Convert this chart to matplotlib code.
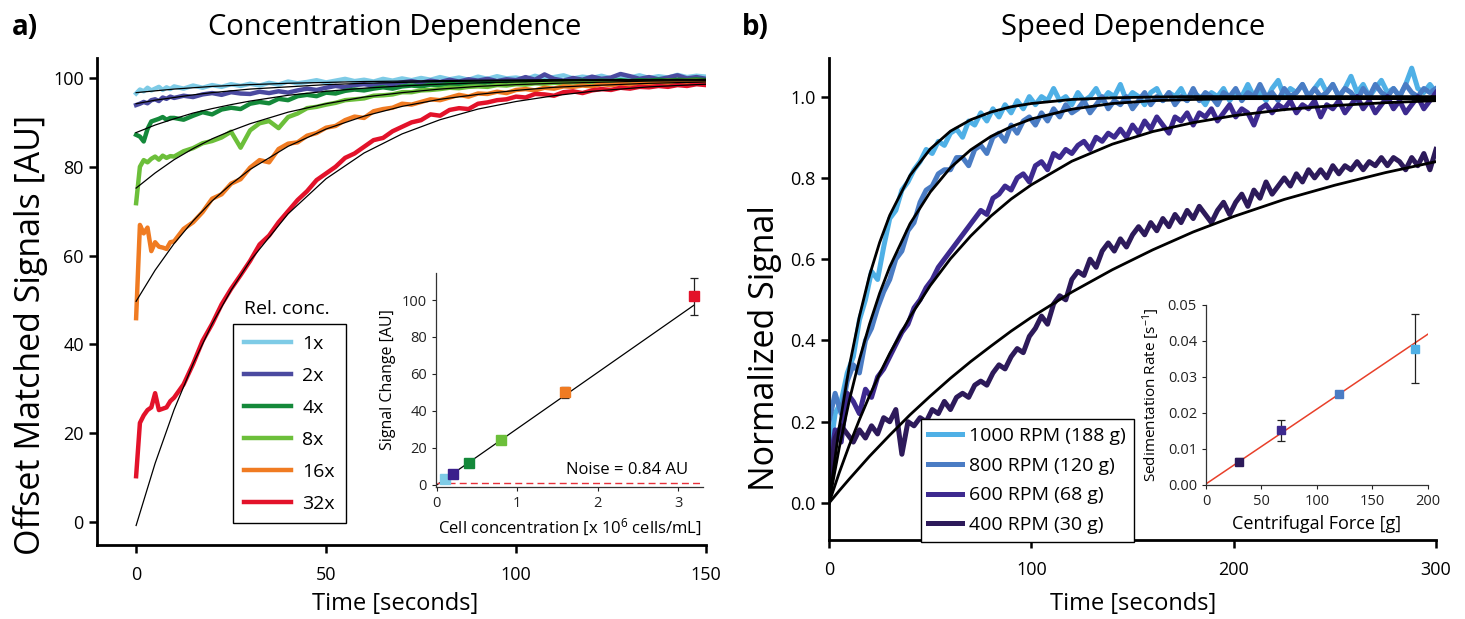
import matplotlib
matplotlib.use("Agg")
import matplotlib.pyplot as plt
from matplotlib.lines import Line2D
import numpy as np

plt.rcParams["font.family"] = ["Open Sans", "DejaVu Sans"]
plt.rcParams["mathtext.fontset"] = "custom"
plt.rcParams["mathtext.rm"] = "Open Sans"
plt.rcParams["mathtext.it"] = "Open Sans:italic"

# ---------------- panel a: concentration dependence ----------------
time_a = np.concatenate([np.arange(0, 10, 1.0), np.arange(10, 150.1, 2.5)])
conc_labels = ["1x", "2x", "4x", "8x", "16x", "32x"]
conc_colors = ["#7ecbe6", "#4b4aa0", "#14893a", "#6cbf3a", "#f07b22", "#e3122a"]

sig_1x = [96.5, 97.4, 97.0, 97.8, 97.2, 97.6, 98.0, 97.3, 97.9, 97.5,
          98.1, 97.6, 98.3, 97.8, 98.4, 98.0, 98.6, 98.2, 98.7, 98.3,
          98.9, 98.5, 99.2, 98.8, 99.1, 99.5, 99.0, 99.4, 99.8, 99.3,
          99.6, 99.2, 99.8, 99.4, 99.9, 99.5, 100.0, 99.6, 100.2, 99.7,
          100.1, 99.6, 100.3, 99.8, 100.4, 99.9, 100.1, 99.7, 100.5, 99.9,
          100.2, 100.6, 99.9, 100.3, 100.0, 100.5, 99.9, 100.3, 100.1, 100.6,
          100.0, 100.4, 100.1, 100.7, 100.2, 100.5, 100.3]
sig_2x = [93.9, 94.2, 94.6, 94.3, 95.0, 95.2, 94.8, 95.6, 95.3, 95.8,
          95.5, 96.0, 95.7, 96.3, 96.6, 96.2, 96.8, 96.5, 96.4, 96.9,
          96.6, 97.0, 96.7, 97.2, 97.6, 97.3, 97.8, 98.2, 97.9, 98.4,
          98.6, 98.3, 98.8, 98.6, 99.0, 99.3, 98.9, 99.4, 99.1, 99.6,
          99.2, 99.7, 99.4, 99.8, 99.3, 99.7, 99.5, 100.2, 99.6, 100.8,
          99.8, 99.4, 100.0, 99.6, 100.3, 99.8, 100.1, 100.9, 100.4, 99.8,
          100.2, 99.7, 100.1, 100.6, 99.9, 100.2, 99.8]
sig_4x = [87.2, 86.8, 85.7, 88.5, 90.2, 90.5, 90.8, 91.2, 90.6, 91.0,
          91.0, 90.6, 91.5, 92.3, 91.8, 92.9, 93.3, 93.0, 94.2, 94.6,
          94.3, 95.3, 95.0, 95.9, 96.2, 95.9, 96.7, 96.5, 97.1, 97.4,
          97.2, 97.6, 97.9, 97.6, 98.1, 98.3, 98.1, 98.5, 98.4, 98.7,
          98.5, 98.9, 98.7, 99.0, 98.8, 99.1, 99.0, 99.2, 98.9, 99.3,
          99.1, 99.3, 99.2, 99.4, 99.2, 99.4, 99.3, 99.5, 99.3, 99.5,
          99.4, 99.6, 99.4, 99.6, 99.5, 99.7, 99.5]
sig_8x = [71.8, 80.0, 81.5, 81.0, 81.8, 82.3, 81.6, 82.5, 82.0, 82.4,
          82.3, 83.5, 84.2, 85.3, 85.8, 86.6, 87.9, 84.3, 88.2, 89.8,
          90.3, 88.7, 91.2, 92.0, 93.2, 93.5, 94.0, 94.4, 95.0, 95.2,
          95.4, 96.0, 96.1, 96.3, 96.8, 96.8, 97.2, 97.3, 97.5, 97.8,
          97.7, 98.0, 98.1, 98.0, 98.4, 98.3, 98.6, 98.5, 98.8, 98.7,
          98.9, 98.8, 99.0, 98.9, 99.1, 99.0, 99.2, 99.1, 99.3, 99.2,
          99.3, 99.2, 99.4, 99.3, 99.4, 99.5, 99.3]
sig_16x = [45.9, 66.9, 65.0, 66.3, 61.0, 63.0, 62.0, 61.8, 61.5, 63.0,
           63.2, 66.0, 67.5, 69.8, 72.8, 73.8, 76.2, 77.2, 79.8, 81.5,
           81.0, 84.0, 85.2, 85.5, 87.0, 87.6, 88.8, 89.2, 90.5, 91.3,
           91.0, 92.5, 93.0, 93.3, 94.2, 94.0, 94.6, 95.2, 95.0, 95.6,
           96.2, 95.8, 96.5, 96.4, 96.9, 96.6, 97.3, 97.5, 97.2, 97.8,
           97.6, 98.1, 98.0, 98.3, 98.1, 98.6, 98.4, 98.7, 98.5, 98.9,
           98.7, 99.0, 98.8, 99.1, 98.9, 99.2, 99.0]
sig_32x = [10.3, 22.3, 24.0, 25.2, 25.8, 29.0, 25.2, 25.5, 25.8, 27.2,
           28.0, 31.0, 35.6, 40.8, 44.6, 49.0, 52.5, 55.6, 58.8, 62.5,
           64.5, 67.5, 70.0, 72.5, 74.5, 77.0, 78.5, 80.0, 82.0, 83.0,
           84.5, 86.0, 86.5, 88.0, 89.0, 90.0, 90.5, 91.8, 91.5, 92.8,
           93.2, 93.0, 94.2, 94.5, 95.0, 95.2, 95.8, 95.6, 96.4, 96.3,
           96.0, 96.8, 97.0, 96.6, 97.2, 97.5, 97.3, 97.8, 97.6, 98.0,
           97.9, 98.2, 98.0, 98.4, 98.2, 98.6, 98.4]
signals_a = [sig_1x, sig_2x, sig_4x, sig_8x, sig_16x, sig_32x]

# fitted curves, read at these times
time_fit_a = [0, 5, 10, 15, 20, 25, 30, 40, 50, 60, 70, 80, 90, 100, 110, 120, 135, 150]
fit_1x = [96.7, 97.1, 97.5, 97.8, 98.1, 98.3, 98.5, 98.8, 99.0, 99.2, 99.3, 99.4, 99.5, 99.55, 99.6, 99.6, 99.65, 99.7]
fit_2x = [94.2, 95.0, 95.6, 96.2, 96.7, 97.1, 97.5, 98.0, 98.5, 98.8, 99.0, 99.2, 99.3, 99.4, 99.5, 99.55, 99.6, 99.65]
fit_4x = [87.7, 89.4, 90.8, 92.1, 93.1, 94.0, 94.8, 96.1, 97.0, 97.7, 98.2, 98.6, 98.9, 99.1, 99.3, 99.4, 99.5, 99.6]
fit_8x = [75.2, 78.6, 81.6, 84.1, 86.3, 88.1, 89.7, 92.3, 94.2, 95.7, 96.7, 97.5, 98.1, 98.5, 98.8, 99.0, 99.3, 99.4]
fit_16x = [49.7, 56.7, 62.7, 67.8, 72.3, 76.1, 79.4, 84.6, 88.5, 91.4, 93.6, 95.2, 96.3, 97.2, 97.9, 98.3, 98.8, 99.1]
fit_32x = [-0.8, 13.2, 25.3, 35.6, 44.6, 52.2, 58.8, 69.4, 77.3, 83.1, 87.4, 90.6, 93.0, 94.7, 96.0, 97.0, 98.0, 98.6]
fits_a = [fit_1x, fit_2x, fit_4x, fit_8x, fit_16x, fit_32x]

# inset a
cell_conc = [0.1, 0.2, 0.4, 0.8, 1.6, 3.2]
signal_change = [3.0, 6.0, 12.0, 24.5, 50.0, 102.0]
signal_err = [0.0, 0.0, 0.0, 0.0, 3.0, 10.0]
inset_a_marker_colors = ["#7ecbe6", "#3a1f8c", "#14893a", "#6cbf3a", "#f07b22", "#e3122a"]
line_a_x = [0.0, 3.2]
line_a_y = [0.0, 97.3]
noise_level = 0.84

# ---------------- panel b: speed dependence ----------------
time_b = np.arange(0, 301, 3)
speed_labels = ["1000 RPM (188 g)", "800 RPM (120 g)", "600 RPM (68 g)", "400 RPM (30 g)"]
speed_colors = ["#4fb0e6", "#4a7cc4", "#3d2a8f", "#2d1a5a"]

sig_1000 = [0.11, 0.22, 0.25, 0.32, 0.36, 0.45, 0.50, 0.57, 0.55, 0.63,
            0.70, 0.72, 0.77, 0.79, 0.82, 0.84, 0.87, 0.86, 0.89, 0.88,
            0.91, 0.92, 0.90, 0.94, 0.93, 0.96, 0.94, 0.97, 0.95, 0.98,
            0.96, 0.99, 0.97, 1.00, 0.98, 1.00, 0.99, 1.02, 0.99, 1.00,
            0.98, 1.01, 0.99, 1.00, 1.02, 0.99, 1.01, 1.00, 1.03, 0.99,
            1.01, 1.00, 0.98, 1.01, 1.02, 0.99, 1.01, 1.00, 1.02, 0.99,
            1.01, 1.00, 0.98, 1.01, 1.00, 1.02, 0.99, 1.01, 1.00, 1.03,
            1.00, 1.01, 0.99, 1.02, 1.04, 1.00, 1.02, 1.01, 1.03, 1.00,
            1.02, 1.04, 1.01, 1.03, 1.00, 1.02, 1.05, 1.01, 1.03, 1.00,
            1.02, 1.04, 1.01, 1.02, 1.00, 1.03, 1.07, 1.02, 1.01, 1.03,
            1.01]
sig_800 = [0.20, 0.27, 0.22, 0.30, 0.34, 0.32, 0.40, 0.43, 0.48, 0.52,
           0.55, 0.60, 0.62, 0.67, 0.69, 0.74, 0.77, 0.78, 0.81, 0.82,
           0.82, 0.85, 0.85, 0.83, 0.87, 0.88, 0.86, 0.90, 0.91, 0.89,
           0.93, 0.91, 0.94, 0.95, 0.93, 0.96, 0.94, 0.97, 0.95, 0.98,
           0.96, 0.97, 0.99, 0.96, 0.98, 1.00, 0.97, 0.99, 0.98, 1.00,
           0.97, 0.99, 1.01, 0.98, 1.00, 0.99, 1.01, 0.98, 1.00, 0.99,
           1.02, 0.99, 1.01, 1.00, 0.98, 1.01, 1.00, 1.02, 0.99, 1.01,
           1.00, 1.03, 1.00, 1.01, 0.99, 1.02, 1.00, 1.01, 1.03, 1.00,
           1.02, 1.00, 1.01, 1.03, 1.00, 1.02, 1.01, 0.99, 1.02, 1.00,
           1.03, 1.01, 1.00, 1.02, 1.00, 1.03, 1.01, 1.00, 1.02, 1.01,
           1.02]
sig_600 = [0.08, 0.18, 0.15, 0.27, 0.25, 0.22, 0.28, 0.26, 0.31, 0.33,
           0.36, 0.39, 0.42, 0.44, 0.48, 0.50, 0.53, 0.55, 0.58, 0.60,
           0.62, 0.64, 0.66, 0.68, 0.70, 0.72, 0.71, 0.75, 0.76, 0.78,
           0.77, 0.80, 0.81, 0.79, 0.83, 0.84, 0.82, 0.86, 0.85, 0.87,
           0.86, 0.88, 0.89, 0.87, 0.90, 0.89, 0.91, 0.90, 0.92, 0.90,
           0.93, 0.91, 0.94, 0.92, 0.95, 0.93, 0.91, 0.95, 0.94, 0.96,
           0.93, 0.96, 0.95, 0.97, 0.94, 0.96, 0.98, 0.95, 0.97, 0.96,
           0.93, 0.97, 0.98, 0.96, 0.98, 0.97, 0.99, 0.96, 0.98, 0.97,
           0.99, 0.95, 0.98, 0.97, 0.99, 0.96, 0.98, 1.00, 0.97, 0.99,
           0.96, 0.98, 1.00, 0.97, 0.99, 0.96, 0.98, 1.00, 0.97, 0.99,
           1.01]
sig_400 = [0.05, 0.16, 0.19, 0.17, 0.15, 0.18, 0.16, 0.19, 0.17, 0.21,
           0.20, 0.23, 0.12, 0.20, 0.19, 0.21, 0.20, 0.23, 0.22, 0.25,
           0.23, 0.26, 0.27, 0.26, 0.29, 0.30, 0.29, 0.32, 0.34, 0.33,
           0.36, 0.38, 0.37, 0.41, 0.43, 0.46, 0.44, 0.49, 0.51, 0.50,
           0.55, 0.57, 0.56, 0.60, 0.58, 0.62, 0.64, 0.62, 0.65, 0.63,
           0.66, 0.68, 0.66, 0.69, 0.67, 0.70, 0.68, 0.71, 0.69, 0.72,
           0.70, 0.73, 0.71, 0.69, 0.72, 0.74, 0.71, 0.74, 0.76, 0.73,
           0.77, 0.75, 0.79, 0.76, 0.78, 0.80, 0.78, 0.81, 0.79, 0.82,
           0.80, 0.82, 0.80, 0.83, 0.81, 0.83, 0.82, 0.84, 0.82, 0.84,
           0.83, 0.85, 0.83, 0.85, 0.84, 0.82, 0.85, 0.83, 0.86, 0.82,
           0.87]
signals_b = [sig_1000, sig_800, sig_600, sig_400]

time_fit_b = [0, 5, 10, 15, 20, 25, 30, 40, 50, 60, 70, 80, 90, 100,
              120, 140, 160, 180, 200, 225, 250, 275, 300]
fit_1000 = [0, 0.185, 0.336, 0.459, 0.560, 0.641, 0.708, 0.806, 0.871, 0.915, 0.943, 0.962,
            0.975, 0.983, 0.993, 0.997, 0.999, 1.0, 1.0, 1.0, 1.0, 1.0, 1.0]
fit_800 = [0, 0.135, 0.252, 0.353, 0.440, 0.516, 0.581, 0.687, 0.765, 0.825, 0.869, 0.902,
           0.926, 0.945, 0.969, 0.983, 0.990, 0.993, 0.995, 0.995, 0.995, 0.995, 0.995]
fit_600 = [0, 0.074, 0.142, 0.205, 0.264, 0.318, 0.368, 0.458, 0.535, 0.601, 0.657, 0.706,
           0.748, 0.783, 0.841, 0.883, 0.914, 0.936, 0.953, 0.968, 0.978, 0.985, 0.990]
fit_400 = [0, 0.030, 0.059, 0.087, 0.115, 0.141, 0.167, 0.217, 0.263, 0.307, 0.348, 0.386,
           0.423, 0.457, 0.519, 0.574, 0.623, 0.667, 0.705, 0.747, 0.782, 0.813, 0.840]
fits_b = [fit_1000, fit_800, fit_600, fit_400]

# inset b
force_g = [30, 68, 120, 188]
sed_rate = [0.0065, 0.0152, 0.0253, 0.0379]
sed_err = [0.001, 0.0029, 0.0003, 0.0096]
inset_b_marker_colors = ["#2d1a5a", "#3d2a8f", "#4a7cc4", "#4fb0e6"]
line_b_x = [0, 200]
line_b_y = [0.0003, 0.0419]


def style_main(ax):
    for side in ("top", "right"):
        ax.spines[side].set_visible(False)
    for side in ("left", "bottom"):
        ax.spines[side].set_linewidth(2.0)
    ax.tick_params(direction="out", length=6, width=1.8, labelsize=13)
    ax.tick_params(axis="x", pad=9)


def style_inset(ax):
    for side in ("top", "right"):
        ax.spines[side].set_visible(False)
    for side in ("left", "bottom"):
        ax.spines[side].set_linewidth(0.9)
        ax.spines[side].set_color("#333333")
    ax.tick_params(direction="out", length=3, width=0.8, labelsize=10.5, colors="#222222")
    ax.patch.set_alpha(0)


fig = plt.figure(figsize=(14.65, 6.19), dpi=100)

# ---- panel a
ax_a = fig.add_axes([0.0662, 0.1195, 0.4157, 0.7868])
for y, c in zip(signals_a, conc_colors):
    ax_a.plot(time_a, y, color=c, lw=3.2, solid_joinstyle="round")
for y in fits_a:
    ax_a.plot(time_fit_a, y, color="black", lw=0.9)
ax_a.set_xlim(-10.3, 150)
ax_a.set_ylim(-5.2, 104.5)
ax_a.set_xticks([0, 50, 100, 150])
ax_a.set_yticks([0, 20, 40, 60, 80, 100])
style_main(ax_a)

handles_a = [Line2D([], [], color=c, lw=3.2) for c in conc_colors]
leg_a = ax_a.legend(handles_a, conc_labels, loc="upper left", bbox_to_anchor=(0.2238, 0.4538),
                    fontsize=14, handlelength=2.4, handletextpad=0.6, labelspacing=0.72,
                    borderpad=0.55, borderaxespad=0, frameon=True, fancybox=False,
                    edgecolor="black", framealpha=1)
leg_a.get_frame().set_linewidth(1.0)
ax_a.text(0.3125, 0.484, "Rel. conc.", transform=ax_a.transAxes, fontsize=14,
          ha="center", va="center")

# inset a
ins_a = fig.add_axes([0.2976, 0.2137, 0.1823, 0.3452])
ins_a.plot(line_a_x, line_a_y, color="black", lw=0.9)
ins_a.plot([0, 3.3], [noise_level, noise_level], color="#e8303a", lw=1.0, ls=(0, (5, 3)))
for x, y, e, c in zip(cell_conc, signal_change, signal_err, inset_a_marker_colors):
    if e > 0:
        ins_a.errorbar(x, y, yerr=e, color="#222222", lw=0.9, capsize=3, capthick=0.9, zorder=3)
    ins_a.plot(x, y, marker="s", ms=6.5, color=c, mec=c, ls="none", zorder=4)
ins_a.text(3.12, 8.1, "Noise = 0.84 AU", fontsize=12, ha="right", va="center")
ins_a.set_xlim(-0.01, 3.31)
ins_a.set_ylim(-1, 114.6)
ins_a.set_xticks([0, 1, 2, 3])
ins_a.set_yticks([0, 20, 40, 60, 80, 100])
ins_a.set_xlabel("Cell concentration [x 10$^{6}$ cells/mL]", fontsize=12, labelpad=4)
ins_a.set_ylabel("Signal Change [AU]", fontsize=11.5, labelpad=4)
style_inset(ins_a)

# ---- panel b
ax_b = fig.add_axes([0.5659, 0.1276, 0.4143, 0.7787])
for y, c in zip(signals_b, speed_colors):
    ax_b.plot(time_b, y, color=c, lw=3.6, solid_joinstyle="round")
for y in fits_b:
    ax_b.plot(time_fit_b, y, color="black", lw=2.0)
ax_b.set_xlim(0, 300)
ax_b.set_ylim(-0.091, 1.095)
ax_b.set_xticks([0, 100, 200, 300])
ax_b.set_yticks([0.0, 0.2, 0.4, 0.6, 0.8, 1.0])
ax_b.set_yticklabels(["0.0", "0.2", "0.4", "0.6", "0.8", "1.0"])
style_main(ax_b)

handles_b = [Line2D([], [], color=c, lw=3.6) for c in speed_colors]
leg_b = ax_b.legend(handles_b, speed_labels, loc="upper left", bbox_to_anchor=(0.151, 0.2504),
                    fontsize=14, handlelength=1.75, handletextpad=0.35, labelspacing=0.6,
                    borderpad=0.4, borderaxespad=0, frameon=True, fancybox=False,
                    edgecolor="black", framealpha=1)
leg_b.get_frame().set_linewidth(1.0)

# inset b
ins_b = fig.add_axes([0.8232, 0.2165, 0.1515, 0.2908])
ins_b.plot(line_b_x, line_b_y, color="#e8402a", lw=1.1)
for x, y, e, c in zip(force_g, sed_rate, sed_err, inset_b_marker_colors):
    ins_b.errorbar(x, y, yerr=e, color="#222222", lw=0.9, capsize=3, capthick=0.9, zorder=3)
    ins_b.plot(x, y, marker="s", ms=6, color=c, mec=c, ls="none", zorder=4)
ins_b.set_xlim(0, 200)
ins_b.set_ylim(0, 0.05)
ins_b.set_xticks([0, 50, 100, 150, 200])
ins_b.set_yticks([0.0, 0.01, 0.02, 0.03, 0.04, 0.05])
ins_b.set_yticklabels(["0.00", "0.01", "0.02", "0.03", "0.04", "0.05"])
ins_b.set_xlabel("Centrifugal Force [g]", fontsize=13, labelpad=4)
ins_b.set_ylabel("Sedimentation Rate [s$^{-1}$]", fontsize=11, labelpad=4)
style_inset(ins_b)

# ---- titles and labels
fig.text(0.0082, 0.955, "a)", fontsize=20, fontweight="bold", ha="left", va="center")
fig.text(0.2696, 0.955, "Concentration Dependence", fontsize=21, ha="center", va="center")
fig.text(0.5065, 0.955, "b)", fontsize=20, fontweight="bold", ha="left", va="center")
fig.text(0.7734, 0.955, "Speed Dependence", fontsize=21, ha="center", va="center")
fig.text(0.0205, 0.4588, "Offset Matched Signals [AU]", fontsize=24.5, rotation=90,
         ha="center", va="center")
fig.text(0.5222, 0.438, "Normalized Signal", fontsize=24.5, rotation=90, ha="center", va="center")
fig.text(0.2696, 0.024, "Time [seconds]", fontsize=17, ha="center", va="center")
fig.text(0.7734, 0.024, "Time [seconds]", fontsize=17, ha="center", va="center")

fig.savefig("out.png", dpi=100)
